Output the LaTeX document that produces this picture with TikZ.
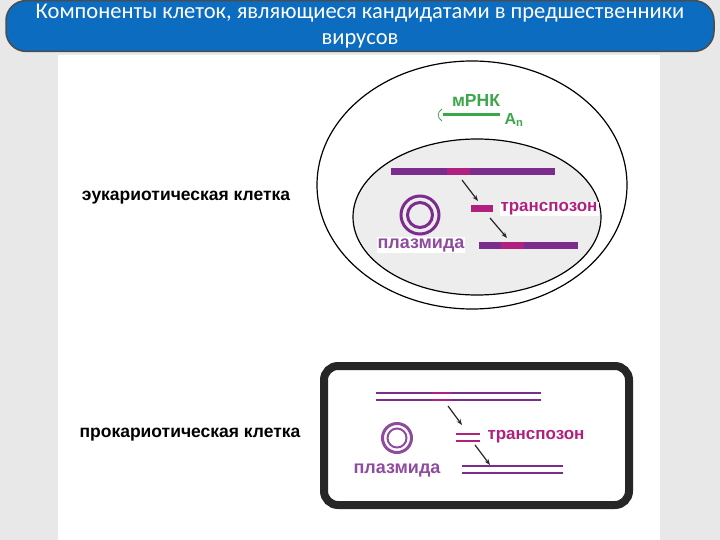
\documentclass[tikz,border=0pt]{standalone}
\usepackage{fontspec}
\setmainfont{Liberation Sans}
\newfontfamily\titlefont{Carlito}
\usetikzlibrary{arrows.meta}
\definecolor{purp}{HTML}{7B2D8E}
\definecolor{mag}{HTML}{B0207E}
\definecolor{grn}{HTML}{3DA64A}
\definecolor{ttl}{HTML}{0B6CC0}
\begin{document}
\begin{tikzpicture}[x=1pt,y=-1pt,
  lbl/.style={font=\bfseries\fontsize{17.5}{20}\selectfont, inner sep=0pt},
  plab/.style={font=\bfseries\fontsize{17}{20}\selectfont, text=mag, inner sep=1pt},
  arr/.style={-{Stealth[length=6pt]}, line width=1.2pt, black!85},
  bar/.style={line width=7pt, purp},
  tb/.style={line width=7pt, mag},
  dl/.style={line width=2.5pt, purp}]
\fill[gray!18] (0,0) rectangle (720,540);
\useasboundingbox (0,0) rectangle (720,540);
\fill[white] (58,55) rectangle (660,540);
\node[draw=black!70, line width=1.5pt, fill=ttl, rounded corners=20pt, minimum width=708pt, minimum height=44pt, text=white, align=center, font=\titlefont\fontsize{22.5}{26}\selectfont] (title) at (360,26) {Компоненты клеток, являющиеся кандидатами в предшественники\\вирусов};
% eukaryote
\draw[line width=1.2pt] (472,185) ellipse [x radius=155, y radius=124] coordinate (outer);
\draw[line width=1.2pt, fill=gray!14] (477,217) ellipse [x radius=124, y radius=78] coordinate (inner);
\node[lbl] (eu) at (186,198) {эукариотическая клетка};
\draw[grn, line width=3pt] (443,115) coordinate (m1) -- (500,115) coordinate (m2);
\draw[grn, thick] (442,109) .. controls (437,112) and (437,118) .. (442,121);
\node[text=grn, font=\bfseries\fontsize{17.5}{20}\selectfont] (mrnk) at (476,100) {мРНК};
\node[text=grn, font=\bfseries\fontsize{16}{18}\selectfont] (an) at (514,120) {A\textsubscript{n}};
\draw[bar] (391,172) coordinate (b1) -- (555,172) coordinate (b2);
\draw[tb] (447,172) -- (470,172);
\draw[tb] (471,209) coordinate (t1) -- (493,209) coordinate (t2);
\draw[bar] (479,245) coordinate (c1) -- (578,245) coordinate (c2);
\draw[tb] (501,245) -- (524,245);
\coordinate (a1) at (462,180); \coordinate (a2) at (478,201);
\coordinate (a3) at (490,218); \coordinate (a4) at (507,238);
\draw[arr] (a1) -- (a2);
\draw[arr] (a3) -- (a4);
\node[plab, fill=white] (tr1) at (549,209) {транспозон};
\draw[purp, line width=3pt] (420,215) circle (19) coordinate (pc1);
\draw[purp, line width=3pt] (420,215) circle (12.5);
\node[plab, text=purp!85, fill=white, font=\bfseries\fontsize{18}{20}\selectfont] (pl1) at (421,245) {плазмида};
% prokaryote
\draw[line width=8pt, black!85, rounded corners=14pt] (324,366) rectangle (629,505);
\node[lbl] (pro) at (190,435) {прокариотическая клетка};
\draw[dl] (376,393) coordinate (d1) -- (541,393) coordinate (d2);
\draw[dl] (376,400) -- (541,400);
\draw[mag, line width=2.5pt] (432,393) -- (452,393);
\draw[mag, line width=2.5pt] (432,400) -- (452,400);
\draw[mag, line width=2.5pt] (456,434) coordinate (s1) -- (480,434) coordinate (s2);
\draw[mag, line width=2.5pt] (456,441) -- (480,441);
\draw[dl] (462,466) coordinate (e1) -- (563,466) coordinate (e2);
\draw[dl] (462,473) -- (563,473);
\coordinate (p1) at (448,406); \coordinate (p2) at (462,425);
\coordinate (p3) at (475,445); \coordinate (p4) at (490,465);
\draw[arr] (p1) -- (p2);
\draw[arr] (p3) -- (p4);
\node[plab] (tr2) at (536,437) {транспозон};
\draw[purp!85, line width=3pt] (397,438) circle (14.5) coordinate (pc2);
\draw[purp!85, line width=2pt] (397,438) circle (9.5);
\node[plab, text=purp!85, font=\bfseries\fontsize{18}{20}\selectfont] (pl2) at (397,470) {плазмида};
\end{tikzpicture}
\end{document}
